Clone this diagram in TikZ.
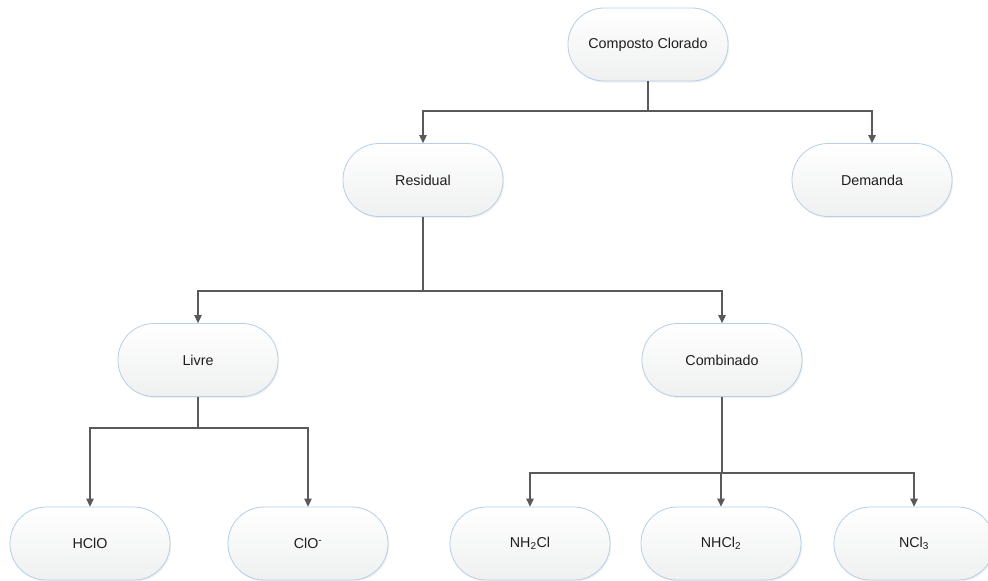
\documentclass[tikz,border=0pt]{standalone}
\usepackage{fontspec}
\setmainfont{Liberation Sans}
\usetikzlibrary{arrows.meta,shadows}
\definecolor{lineclr}{HTML}{5A5A5A}
\definecolor{bordclr}{HTML}{B5CFE8}
\definecolor{botclr}{HTML}{EFF0F0}
\definecolor{txtclr}{HTML}{1E1E1E}
\begin{document}
\begin{tikzpicture}[x=1pt,y=-1pt,
  term/.style={rectangle, rounded corners=36pt, minimum width=160pt, minimum height=73pt,
    draw=bordclr, line width=0.8pt, top color=white, bottom color=botclr,
    drop shadow={opacity=0.12, shadow xshift=1.2pt, shadow yshift=-1.5pt},
    font=\fontsize{14.3}{17}\selectfont, text=txtclr, inner sep=0pt},
  arr/.style={draw=lineclr, line width=1.3pt, -{Triangle[length=8pt,width=7.5pt]}}]
\useasboundingbox (0,0) rectangle (988,581);
\node[term] (cc) at (648,44.5) {Composto Clorado};
\node[term] (res) at (423,180) {Residual};
\node[term] (dem) at (872,180) {Demanda};
\node[term] (liv) at (198,360) {Livre};
\node[term] (comb) at (722,360) {Combinado};
\node[term] (hclo) at (90,543.5) {HClO};
\node[term] (clo) at (308,543.5) {ClO\textsuperscript{-}};
\node[term] (nh2cl) at (530,543.5) {NH\textsubscript{2}Cl};
\node[term] (nhcl2) at (721,543.5) {NHCl\textsubscript{2}};
\node[term] (ncl3) at (914,543.5) {NCl\textsubscript{3}};
\coordinate (j1) at (648,111);
\coordinate (j2) at (423,291);
\coordinate (j3) at (198,428);
\coordinate (j4) at (722,473);
\draw[arr] (cc) -- (j1) -| (res);
\draw[arr] (j1) -| (dem);
\draw[arr] (res) -- (j2) -| (liv);
\draw[arr] (j2) -| (comb);
\draw[arr] (liv) -- (j3) -| (hclo);
\draw[arr] (j3) -| (clo);
\draw[arr] (comb) -- (j4) -| (nh2cl);
\draw[arr] (j4) -| (nhcl2);
\draw[arr] (j4) -| (ncl3);
\end{tikzpicture}
\end{document}
